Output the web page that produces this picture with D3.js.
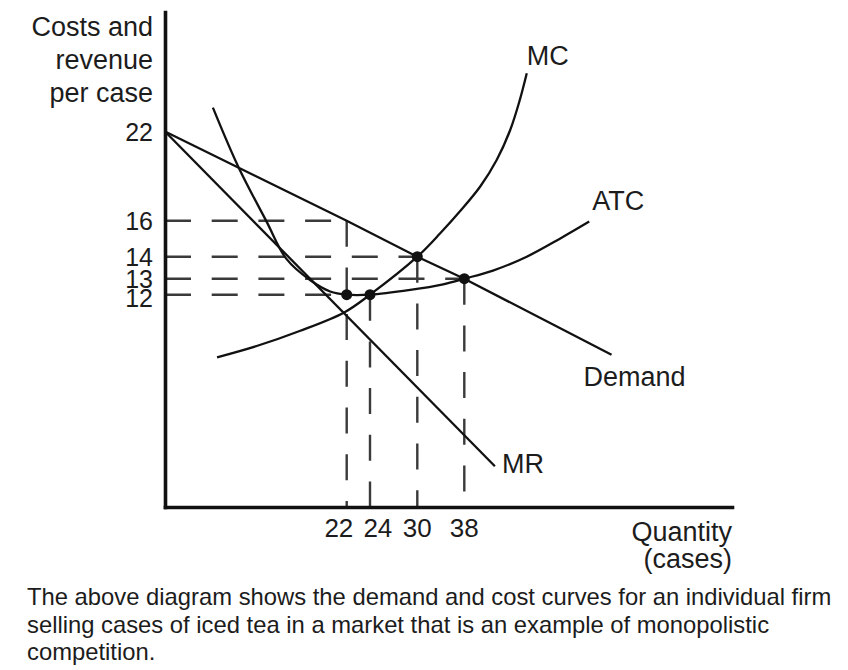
<!DOCTYPE html>
<html><head><meta charset="utf-8">
<script src="https://cdn.jsdelivr.net/npm/d3@7"></script>
<style>
body{margin:0;background:#fff}
text{font-family:"Liberation Sans",Arial,Helvetica,sans-serif;fill:#1c1c1c}
</style>
</head><body>
<svg id="chart" width="848" height="670"></svg>
<script>
// ---------- data ----------
const yTickValues = [22, 16, 14, 13, 12];
const xTickValues = [22, 24, 30, 38];
const yTitleLines = ["Costs and", "revenue", "per case"];
const xTitleLines = ["Quantity", "(cases)"];
const captionLines = [
  "The above diagram shows the demand and cost curves for an individual firm",
  "selling cases of iced tea in a market that is an example of monopolistic",
  "competition."
];

const demandQ = [0, 22, 30, 38, 61.1];
const demandP = [22, 16, 14, 13, 8.6];

const mrQ = [0, 42.8];
const mrP = [22, 2.3];

const mcQ = [6.3, 11.1, 16.3, 21.7, 24, 30, 33.9, 37.3, 40.5, 43.1, 45.2, 46.7, 47.8];
const mcP = [8.46, 9.1, 9.95, 11.0, 12, 14, 15.3, 16.65, 18.3, 20.1, 22.1, 24.1, 25.9];

const atcQ = [5.8, 8.9, 12.3, 14.7, 17.6, 20, 22, 24, 29.1, 34.4, 38, 42.5, 47.8, 53, 57.6];
const atcP = [23.6, 19.6, 15.95, 13.9, 12.9, 12.2, 12, 12, 12.3, 12.65, 13, 13.37, 14.0, 15.0, 15.95];

const dotQ = [22, 24, 30, 38];
const dotP = [12, 12, 14, 13];

// horizontal guides: price level -> quantity where it ends
const hGuideP = [16, 14, 13, 12];
const hGuideQ = [22, 30, 38, 22];
// vertical guides: quantity -> price where it starts
const vGuideQ = [22, 24, 30, 38];
const vGuideP = [16, 12, 14, 13];

const curveNames = ["MC", "ATC", "Demand", "MR"];

// ---------- layout ----------
const svg = d3.select("#chart");
const FS = 27;

// schematic (non-proportional) axes, as in the original diagram
const x = d3.scaleLinear()
  .domain([0, 22, 24, 30, 38, 80])
  .range([165, 346.7, 370, 417.3, 464.3, 732]);
const y = d3.scaleLinear()
  .domain([0, 12, 13, 14, 16, 22, 30])
  .range([507, 294.7, 278.7, 256.7, 220.7, 131.5, 12]);

const toPts = (qs, ps) => qs.map((q, i) => [q, ps[i]]);
const line = d3.line().x(d => x(d[0])).y(d => y(d[1]));
const smooth = d3.line().x(d => x(d[0])).y(d => y(d[1])).curve(d3.curveCatmullRom.alpha(0.5));

// guides (dashed)
const gG = svg.append("g").attr("stroke", "#3a3a3a").attr("stroke-width", 2.4)
  .attr("stroke-dasharray", "26,20.7").attr("fill", "none");
hGuideP.forEach((p, i) => {
  gG.append("line").attr("x1", x(0)).attr("x2", x(hGuideQ[i])).attr("y1", y(p)).attr("y2", y(p));
});
vGuideQ.forEach((q, i) => {
  gG.append("line").attr("x1", x(q)).attr("x2", x(q)).attr("y1", y(vGuideP[i])).attr("y2", y(0));
});

// curves
const cG = svg.append("g").attr("fill", "none").attr("stroke", "#111").attr("stroke-width", 2.3);
cG.append("path").attr("d", line(toPts(demandQ, demandP)));
cG.append("path").attr("d", line(toPts(mrQ, mrP)));
cG.append("path").attr("d", smooth(toPts(mcQ, mcP)));
cG.append("path").attr("d", smooth(toPts(atcQ, atcP)));

// dots
svg.append("g").selectAll("circle").data(toPts(dotQ, dotP)).join("circle")
  .attr("cx", d => x(d[0])).attr("cy", d => y(d[1])).attr("r", 5.5).attr("fill", "#111");

// axes
const xAxis = d3.axisBottom(x).tickValues(xTickValues).tickSize(0).tickSizeOuter(0).tickPadding(0);
const yAxis = d3.axisLeft(y).tickValues(yTickValues).tickSize(0).tickSizeOuter(0).tickPadding(0);
const gx = svg.append("g").attr("transform", `translate(0,${y(0)})`).call(xAxis);
const gy = svg.append("g").attr("transform", `translate(${x(0)},0)`).call(yAxis);
[gx, gy].forEach(g => {
  g.select(".domain").attr("stroke", "#111").attr("stroke-width", 3.6).attr("stroke-linecap", "square");
  g.selectAll("text").attr("font-family", '"Liberation Sans",Arial,sans-serif').attr("fill", "#1c1c1c");
});
gx.selectAll("text").attr("font-size", 26);
gy.selectAll("text").attr("font-size", 25);

// spread crowded x tick labels symmetrically
const xMinGap = 39;
const xPos = xTickValues.map(v => x(v));
for (let k = 0; k < 5; k++) {
  for (let i = 1; i < xPos.length; i++) {
    const gap = xPos[i] - xPos[i - 1];
    if (gap < xMinGap) { const d = (xMinGap - gap) / 2; xPos[i - 1] -= d; xPos[i] += d; }
  }
}
gx.selectAll(".tick").each(function (d, i) {
  d3.select(this).attr("transform", `translate(${xPos[i]},0)`);
  d3.select(this).select("text").attr("y", 29.5).attr("dy", 0);
});

// push crowded y tick labels downward
const yMinGap = 19.5;
const yPos = yTickValues.map(v => y(v));
for (let i = 1; i < yPos.length; i++) {
  if (yPos[i] - yPos[i - 1] < yMinGap) yPos[i] = yPos[i - 1] + yMinGap;
}
gy.selectAll(".tick").each(function (d, i) {
  d3.select(this).attr("transform", `translate(0,${yPos[i]})`);
  d3.select(this).select("text").attr("x", -12).attr("dy", "0.36em");
});

// axis titles
svg.append("g").selectAll("text").data(yTitleLines).join("text")
  .attr("x", 153).attr("y", (d, i) => 36 + i * 33)
  .attr("text-anchor", "end").attr("font-size", FS).text(d => d);
svg.append("g").selectAll("text").data(xTitleLines).join("text")
  .attr("x", 732).attr("y", (d, i) => 541 + i * 26.5)
  .attr("text-anchor", "end").attr("font-size", FS).text(d => d);

// curve labels placed relative to each curve's end point
const ends = {
  "MC": [mcQ[mcQ.length - 1], mcP[mcP.length - 1]],
  "ATC": [atcQ[atcQ.length - 1], atcP[atcP.length - 1]],
  "Demand": [demandQ[demandQ.length - 1], demandP[demandP.length - 1]],
  "MR": [mrQ[mrQ.length - 1], mrP[mrP.length - 1]]
};
const labelOffset = { "MC": [0, -8], "ATC": [3, -12], "Demand": [-28, 31], "MR": [7, 7] };
svg.append("g").selectAll("text").data(curveNames).join("text")
  .attr("x", d => x(ends[d][0]) + labelOffset[d][0])
  .attr("y", d => y(ends[d][1]) + labelOffset[d][1])
  .attr("font-size", FS).text(d => d);

// caption
svg.append("g").selectAll("text").data(captionLines).join("text")
  .attr("x", 27).attr("y", (d, i) => 605 + i * 27.5)
  .attr("font-size", 23.8).attr("fill", "#000").text(d => d);
</script>
</body></html>
